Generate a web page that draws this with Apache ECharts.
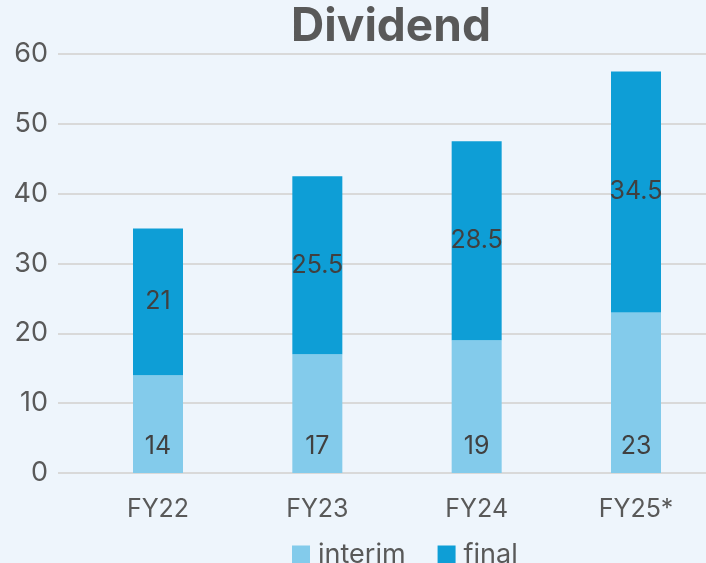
<!DOCTYPE html>
<html>
<head>
<meta charset="utf-8">
<script src="https://cdn.jsdelivr.net/npm/echarts@6/dist/echarts.min.js"></script>
<style>
  html, body { margin: 0; padding: 0; background: #EEF5FC; }
  #chart { width: 706px; height: 563px; }
</style>
</head>
<body>
<div id="chart"></div>
<script>
// 数据
const categories = ['FY22', 'FY23', 'FY24', 'FY25*'];
const interim = [14, 17, 19, 23];
const final = [21, 25.5, 28.5, 34.5];
const yTicks = [0, 10, 20, 30, 40, 50, 60];

const chart = echarts.init(document.getElementById('chart'));
const font = 'Inter, "Noto Sans", sans-serif';

const option = {
  backgroundColor: '#EEF5FC',
  title: {
    text: 'Dividend',
    left: 386,
    top: -1,
    textAlign: 'center',
    textStyle: { color: '#595959', fontSize: 46, fontWeight: 'bold', fontFamily: font }
  },
  legend: {
    data: ['interim', 'final'],
    left: 287,
    top: 536,
    itemWidth: 18,
    itemHeight: 18,
    itemGap: 32,
    icon: 'rect',
    textStyle: { color: '#595959', fontSize: 27, fontFamily: font, padding: [0, 0, 0, 3] }
  },
  grid: [
    // 网格线 + y轴
    { left: 58, right: 0, top: 54, bottom: 90 },
    // 柱子 (类目中心从第一根到最后一根)
    { left: 158, width: 478, top: 54, bottom: 90 }
  ],
  xAxis: [
    { type: 'category', gridIndex: 0, data: categories, show: false },
    {
      type: 'category', gridIndex: 1, data: categories, boundaryGap: false,
      axisLine: { show: false }, axisTick: { show: false },
      axisLabel: { color: '#595959', fontSize: 25, fontFamily: font, margin: 24 },
      splitLine: { show: false }
    }
  ],
  yAxis: [
    {
      type: 'value', gridIndex: 0, min: yTicks[0], max: yTicks[yTicks.length - 1], interval: 10,
      axisLine: { show: false }, axisTick: { show: false },
      axisLabel: { color: '#595959', fontSize: 27, fontFamily: font, margin: 10 },
      splitLine: { lineStyle: { color: '#D9D9D9', width: 2 } }
    },
    {
      type: 'value', gridIndex: 1, min: yTicks[0], max: yTicks[yTicks.length - 1], interval: 10,
      show: false, splitLine: { show: false }
    }
  ],
  series: [
    {
      name: 'interim',
      type: 'bar',
      stack: 'div',
      xAxisIndex: 1,
      yAxisIndex: 1,
      barWidth: 50,
      clip: false,
      data: interim,
      itemStyle: { color: '#83CBEB' },
      label: {
        show: true, position: 'insideBottom', distance: 14,
        color: '#404040', fontSize: 25, fontFamily: font
      }
    },
    {
      name: 'final',
      type: 'bar',
      stack: 'div',
      xAxisIndex: 1,
      yAxisIndex: 1,
      barWidth: 50,
      clip: false,
      data: final,
      itemStyle: { color: '#0E9ED6' },
      label: {
        show: true, position: 'inside',
        color: '#404040', fontSize: 25, fontFamily: font
      }
    }
  ]
};

chart.setOption(option);
</script>
</body>
</html>
